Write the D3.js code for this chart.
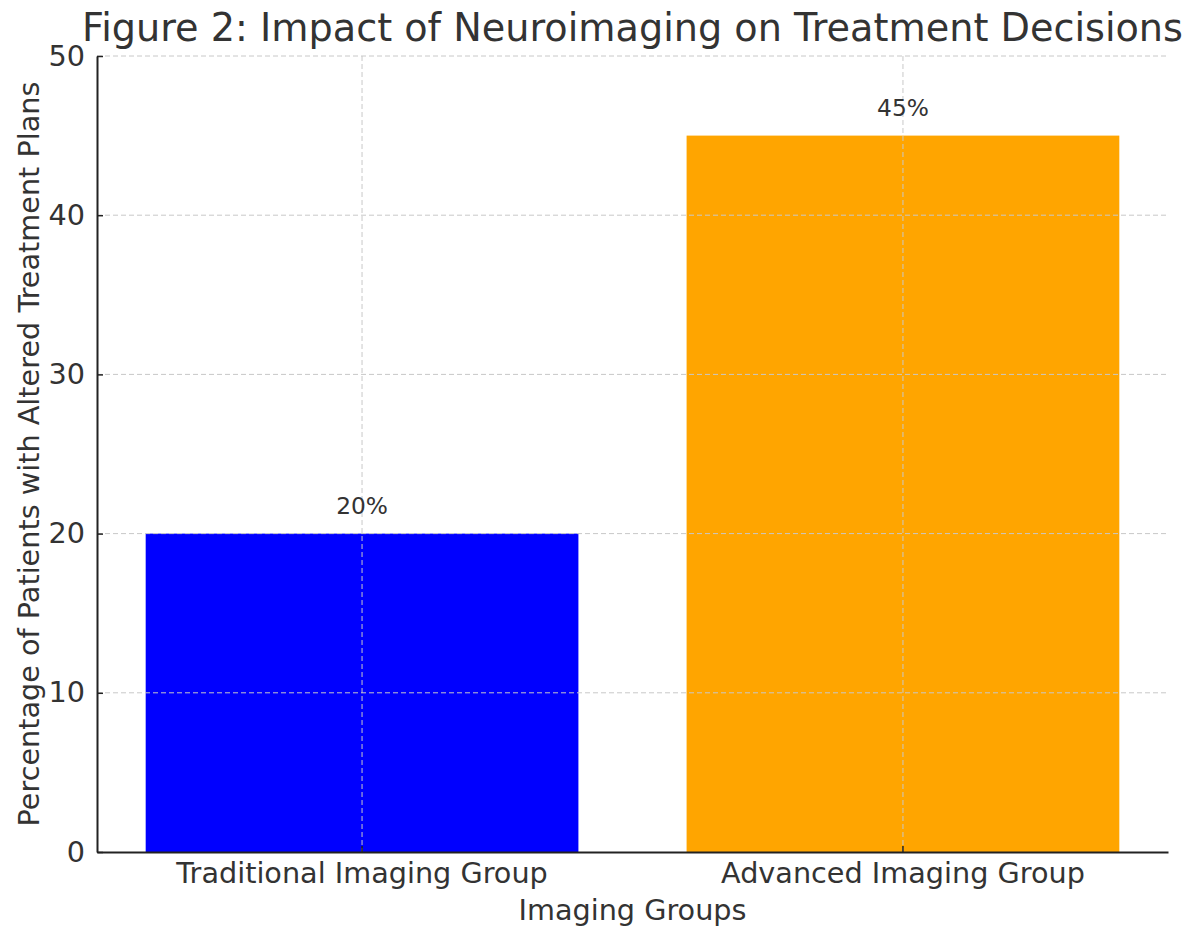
<!DOCTYPE html>
<html>
<head>
<meta charset="utf-8">
<script src="https://cdn.jsdelivr.net/npm/d3@7"></script>
<style>
  html, body { margin: 0; padding: 0; background: #fff; }
  svg { display: block; font-family: "DejaVu Sans", sans-serif; }
</style>
</head>
<body>
<svg id="chart" width="1191" height="928"></svg>
<script>
// Data
const groups = ["Traditional Imaging Group", "Advanced Imaging Group"];
const percentages = [20, 45];
const barColors = ["#0000ff", "#ffa500"];
const yTicks = [0, 10, 20, 30, 40, 50];

const titleText = "Figure 2: Impact of Neuroimaging on Treatment Decisions";
const xLabelText = "Imaging Groups";
const yLabelText = "Percentage of Patients with Altered Treatment Plans";

const W = 1191, H = 928;
const margin = { left: 97, right: 23, top: 56, bottom: 76 };
const innerW = W - margin.left - margin.right;
const innerH = H - margin.top - margin.bottom;
const labelSize = 28.7;

const svg = d3.select("#chart");
const g = svg.append("g").attr("transform", `translate(${margin.left},${margin.top})`);

// Bars take 80% of each category step
const x = d3.scaleBand()
  .domain(groups)
  .range([0, innerW])
  .paddingInner(0.2)
  .paddingOuter(0.09);
const center = d => x(d) + x.bandwidth() / 2;

const y = d3.scaleLinear().domain([0, 50]).range([innerH, 0]);

// Bars
g.selectAll("rect.bar")
  .data(groups)
  .join("rect")
  .attr("class", "bar")
  .attr("x", d => x(d))
  .attr("width", x.bandwidth())
  .attr("y", (d, i) => y(percentages[i]))
  .attr("height", (d, i) => y(0) - y(percentages[i]))
  .attr("fill", (d, i) => barColors[i]);

// Grid (drawn over the bars)
const grid = g.append("g").attr("class", "grid");
grid.selectAll("line.hgrid")
  .data(yTicks.filter(t => t > 0))
  .join("line")
  .attr("x1", 0).attr("x2", innerW)
  .attr("y1", d => y(d)).attr("y2", d => y(d))
  .attr("stroke", "#c8c8c8").attr("stroke-width", 1)
  .attr("stroke-dasharray", "5,3");
grid.selectAll("line.vgrid")
  .data(groups)
  .join("line")
  .attr("x1", d => center(d)).attr("x2", d => center(d))
  .attr("y1", 0).attr("y2", innerH)
  .attr("stroke", "#c8c8c8").attr("stroke-width", 1)
  .attr("stroke-dasharray", "5,3");

// Value labels
g.selectAll("text.val")
  .data(groups)
  .join("text")
  .attr("class", "val")
  .attr("x", d => center(d))
  .attr("y", (d, i) => y(percentages[i]) - 20)
  .attr("text-anchor", "middle")
  .attr("font-size", 23.3)
  .attr("fill", "#333")
  .text((d, i) => percentages[i] + "%");

// Y axis (ticks pointing inward)
const yAxis = d3.axisLeft(y).tickValues(yTicks).tickSizeInner(-6).tickSizeOuter(0).tickPadding(12);
const yG = g.append("g").call(yAxis);
yG.select(".domain").attr("stroke", "#222").attr("stroke-width", 2);
yG.selectAll(".tick line").attr("stroke", "#222").attr("stroke-width", 1.5);
yG.selectAll(".tick text").attr("font-size", labelSize).attr("fill", "#333").attr("font-family", "DejaVu Sans");

// X axis (ticks pointing inward)
const xAxis = d3.axisBottom(x).tickSizeInner(-6).tickSizeOuter(0).tickPadding(11);
const xG = g.append("g").attr("transform", `translate(0,${innerH})`).call(xAxis);
xG.select(".domain").attr("stroke", "#222").attr("stroke-width", 2);
xG.selectAll(".tick line").attr("stroke", "#222").attr("stroke-width", 1.5);
xG.selectAll(".tick text").attr("font-size", labelSize).attr("fill", "#333").attr("font-family", "DejaVu Sans");

// Axis labels
svg.append("text")
  .attr("x", margin.left + innerW / 2)
  .attr("y", 920)
  .attr("text-anchor", "middle")
  .attr("font-size", labelSize)
  .attr("fill", "#333")
  .text(xLabelText);

svg.append("text")
  .attr("transform", `translate(39,${margin.top + innerH / 2}) rotate(-90)`)
  .attr("text-anchor", "middle")
  .attr("font-size", labelSize)
  .attr("fill", "#333")
  .text(yLabelText);

// Title
svg.append("text")
  .attr("x", margin.left + innerW / 2)
  .attr("y", 41)
  .attr("text-anchor", "middle")
  .attr("font-size", 38.2)
  .attr("fill", "#333")
  .text(titleText);
</script>
</body>
</html>
